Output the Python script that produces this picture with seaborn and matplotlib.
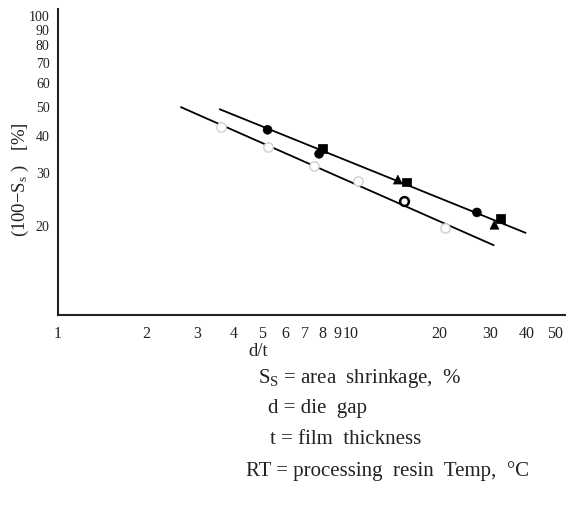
import matplotlib
matplotlib.use("Agg")
import matplotlib.pyplot as plt
import seaborn as sns
import pandas as pd
from matplotlib.ticker import FixedLocator, FixedFormatter, NullLocator

# ---- data ----
upper_x = [5.2, 7.8, 8.0, 14.5, 15.5, 27.0, 31.0, 32.5]
upper_y = [41.5, 34.5, 36.0, 28.3, 27.8, 22.0, 20.0, 21.0]
upper_m = ["o", "o", "s", "^", "s", "o", "^", "s"]

lower_x = [3.6, 5.2, 7.5, 10.6, 21.0]
lower_y = [42.5, 36.5, 31.5, 28.0, 19.5]
lower_dark_x = [15.2]
lower_dark_y = [24.0]

fit_upper_x = [3.57, 39.6]
fit_upper_y = [48.6, 18.8]
fit_lower_x = [2.63, 30.8]
fit_lower_y = [49.4, 17.1]

xticks = [1, 2, 3, 4, 5, 6, 7, 8, 9, 10, 20, 30, 40, 50]
xticklabels = ["1", "2", "3", "4", "5", "6", "7", "8", "9", "10", "20", "30", "40", "50"]
yticks = [20, 30, 40, 50, 60, 70, 80, 90, 100]
yticklabels = ["20", "30", "40", "50", "60", "70", "80", "90", "100"]

legend_lines = [
    "S$_\\mathrm{S}$ = area  shrinkage,  $\\%$",
    "d = die  gap",
    "t = film  thickness",
    "RT = processing  resin  Temp,  °C",
]

# ---- style ----
sns.set_style("white")
plt.rcParams["font.family"] = ["Liberation Serif", "DejaVu Serif"]
plt.rcParams["mathtext.fontset"] = "custom"
plt.rcParams["mathtext.rm"] = "Liberation Serif"
plt.rcParams["mathtext.it"] = "Liberation Serif:italic"

W, H = 568, 510
fig = plt.figure(figsize=(W / 100, H / 100), dpi=100)
ax = fig.add_axes([58 / W, 1 - 316 / H, (565 - 58) / W, (316 - 10) / H])

# fit lines
sns.lineplot(x=fit_upper_x, y=fit_upper_y, ax=ax, color="black", lw=1.3, zorder=2)
sns.lineplot(x=fit_lower_x, y=fit_lower_y, ax=ax, color="black", lw=1.3, zorder=2)

# upper (filled) points
dfu = pd.DataFrame({"x": upper_x, "y": upper_y, "m": upper_m})
sns.scatterplot(data=dfu, x="x", y="y", style="m",
                markers={"o": "o", "s": "s", "^": "^"},
                color="black", edgecolor="black", s=40, ax=ax, legend=False, zorder=3)

# lower (open, faint) points
sns.scatterplot(x=lower_x, y=lower_y, marker="o", s=45, facecolor="white",
                edgecolor="#d0d0d0", linewidth=1.0, ax=ax, zorder=3)
sns.scatterplot(x=lower_dark_x, y=lower_dark_y, marker="o", s=40, facecolor="white",
                edgecolor="black", linewidth=1.8, ax=ax, zorder=3)

ax.set_xscale("log")
ax.set_yscale("log")
ax.set_xlim(1, 54)
ax.set_ylim(10, 105)

ax.xaxis.set_major_locator(FixedLocator(xticks))
ax.xaxis.set_major_formatter(FixedFormatter(xticklabels))
ax.xaxis.set_minor_locator(NullLocator())
ax.yaxis.set_major_locator(FixedLocator(yticks))
ax.yaxis.set_major_formatter(FixedFormatter(yticklabels))
ax.yaxis.set_minor_locator(NullLocator())
ax.tick_params(axis="both", length=0, colors="#222222")
ax.tick_params(axis="x", pad=7, labelsize=11.5)
ax.tick_params(axis="y", pad=6, labelsize=10)

for s in ["top", "right"]:
    ax.spines[s].set_visible(False)
for s in ["left", "bottom"]:
    ax.spines[s].set_color("#222222")
    ax.spines[s].set_linewidth(1.5)

ax.set_xlabel("")
ax.set_ylabel("")

fig.text(258 / W, 1 - 352 / H, "d/t", ha="center", va="center", fontsize=13.5, color="#222222")
fig.text(20 / W, 1 - 180 / H, "(100−S$_\\mathrm{s}$ )   [%]", rotation=90,
         ha="center", va="center", fontsize=13.5, color="#222222")

xs = [258, 268, 270, 246]
ys = [378, 409, 440, 471]
for t, px, py in zip(legend_lines, xs, ys):
    fig.text(px / W, 1 - py / H, t, ha="left", va="center", fontsize=15, color="#222222")

fig.savefig("out.png", dpi=100)
